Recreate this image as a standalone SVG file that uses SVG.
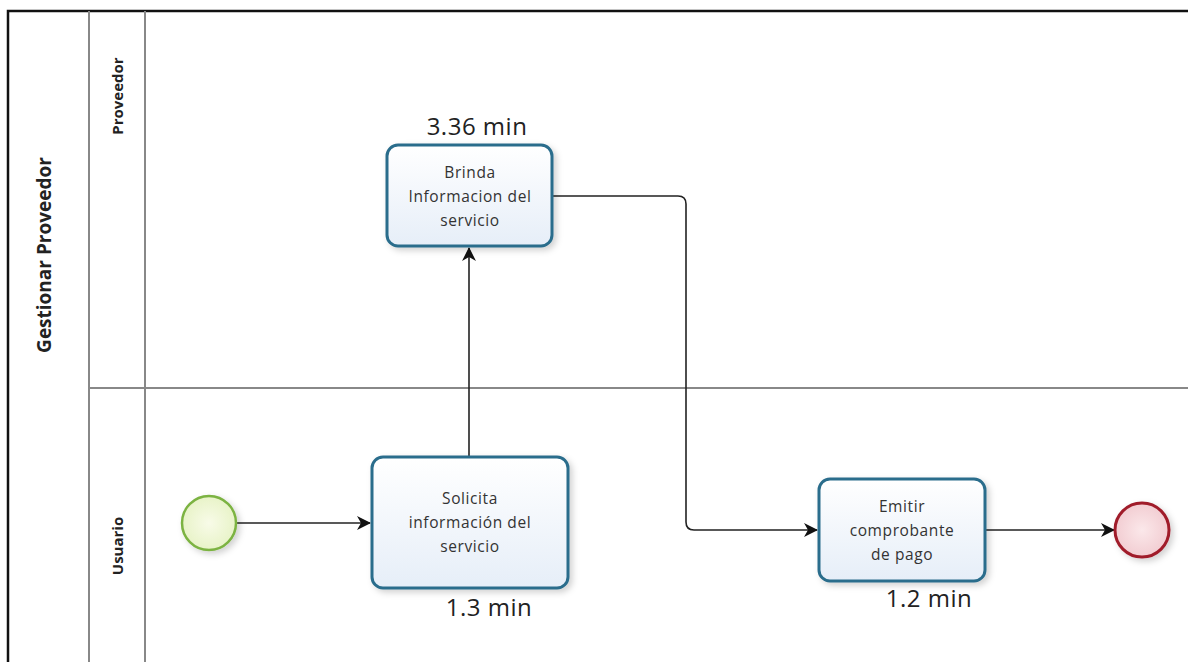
<svg xmlns="http://www.w3.org/2000/svg" width="1188" height="662" viewBox="0 0 1188 662">
<style>
.lane{stroke:#888;stroke-width:2;fill:none}
.task rect{fill:url(#tg);stroke:#2b6d8c;stroke-width:3}
.task text{font-family:"Open Sans","Liberation Sans",sans-serif;font-size:15.5px;letter-spacing:0.6px;fill:#333;text-anchor:middle}
.lbl{font-family:"Open Sans","Liberation Sans",sans-serif;font-size:24px;letter-spacing:0.5px;fill:#222;text-anchor:middle}
.hdr{font-family:"Open Sans","Liberation Sans",sans-serif;font-weight:bold;fill:#222;text-anchor:middle}
.conn path{stroke:#222;stroke-width:1.6;fill:none;marker-end:url(#arr)}
</style>
<defs>
<linearGradient id="tg" x1="0" y1="0" x2="0" y2="1"><stop offset="0" stop-color="#ffffff"/><stop offset="1" stop-color="#e6eef8"/></linearGradient>
<radialGradient id="sg"><stop offset="0" stop-color="#f8fbe8"/><stop offset="1" stop-color="#e8f3c8"/></radialGradient>
<radialGradient id="eg"><stop offset="0" stop-color="#fbe8ea"/><stop offset="1" stop-color="#f2cdd2"/></radialGradient>
<filter id="sh" x="-20%" y="-20%" width="150%" height="150%"><feDropShadow dx="3" dy="3" stdDeviation="3" flood-color="#000" flood-opacity="0.18"/></filter>
<marker id="arr" viewBox="0 0 14 14" refX="13" refY="7" markerWidth="14" markerHeight="14" markerUnits="userSpaceOnUse" orient="auto"><path d="M0,0 L14,7 L0,14 L4,7 Z" fill="#111"/></marker>
</defs>
<rect width="1188" height="662" fill="#fff"/>
<g id="pool">
<path d="M8,662 V11 H1188" stroke="#111" stroke-width="2.5" fill="none"/>
<path class="lane" d="M89,11 V662 M145,11 V662 M89,388 H1188"/>
<text class="hdr" font-size="19" transform="translate(51,255) rotate(-90)">Gestionar Proveedor</text>
<text class="hdr" font-size="15" transform="translate(123,96) rotate(-90)">Proveedor</text>
<text class="hdr" font-size="15" transform="translate(123,546) rotate(-90)">Usuario</text>
</g>
<g class="conn" id="connectors">
<path d="M237,523 H370"/>
<path d="M469,457 V248"/>
<path d="M553,196 H678 Q686,196 686,204 V522 Q686,530 694,530 H817"/>
<path d="M986,530 H1114"/>
</g>
<g id="start"><circle cx="209" cy="523" r="27" fill="url(#sg)" stroke="#7cb342" stroke-width="2.5" filter="url(#sh)"/></g>
<g id="t1" class="task"><rect x="372" y="457" width="196" height="131" rx="11" filter="url(#sh)"/>
<text x="470" y="504">Solicita</text><text x="470" y="528">información del</text><text x="470" y="552">servicio</text></g>
<g id="t2" class="task"><rect x="387" y="145" width="165" height="101" rx="11" filter="url(#sh)"/>
<text x="470" y="178">Brinda</text><text x="470" y="202">Informacion del</text><text x="470" y="226">servicio</text></g>
<g id="t3" class="task"><rect x="819" y="479" width="166" height="102" rx="11" filter="url(#sh)"/>
<text x="902" y="512">Emitir</text><text x="902" y="536">comprobante</text><text x="902" y="560">de pago</text></g>
<g id="end"><circle cx="1142" cy="530" r="27" fill="url(#eg)" stroke="#a01c2a" stroke-width="3" filter="url(#sh)"/></g>
<text class="lbl" x="477" y="135">3.36 min</text>
<text class="lbl" x="489" y="616">1.3 min</text>
<text class="lbl" x="929" y="607">1.2 min</text>
</svg>
